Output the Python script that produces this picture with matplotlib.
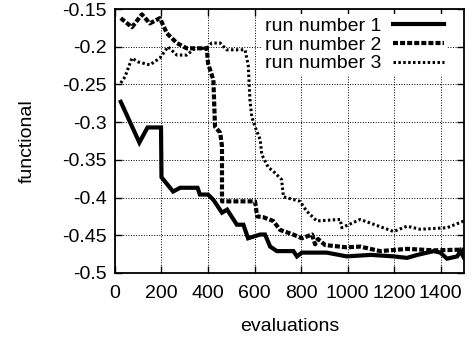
import matplotlib
matplotlib.use('Agg')
from matplotlib import pyplot as plt

# evaluations / functional value for the three runs
run1_x = [25, 105, 140, 198, 200, 250, 280, 355, 365, 400, 423, 460, 482, 524, 552, 572, 624, 645,
          667, 696, 767, 782, 803, 910, 996, 1100, 1197, 1255, 1300, 1370, 1398, 1427, 1471, 1484, 1500]
run1_y = [-0.273, -0.327, -0.307, -0.307, -0.373, -0.392, -0.387, -0.387, -0.396, -0.396, -0.403,
          -0.420, -0.416, -0.436, -0.436, -0.454, -0.449, -0.449, -0.465, -0.471, -0.471, -0.478,
          -0.473, -0.473, -0.478, -0.476, -0.478, -0.480, -0.476, -0.471, -0.473, -0.481, -0.478,
          -0.471, -0.480]

run2_x = [25, 73, 116, 150, 193, 223, 266, 308, 395, 400, 423, 430, 452, 460, 460, 602, 611, 637,
          680, 710, 766, 803, 847, 860, 873, 903, 996, 1054, 1140, 1255, 1370, 1500]
run2_y = [-0.162, -0.174, -0.157, -0.169, -0.162, -0.182, -0.195, -0.202, -0.202, -0.222, -0.244,
          -0.306, -0.314, -0.332, -0.405, -0.405, -0.425, -0.426, -0.431, -0.443, -0.449, -0.454,
          -0.449, -0.462, -0.455, -0.463, -0.466, -0.465, -0.471, -0.468, -0.470, -0.469]

run3_x = [25, 43, 73, 99, 150, 193, 228, 266, 308, 344, 394, 416, 452, 480, 559, 573, 580, 588,
          602, 624, 631, 659, 680, 716, 724, 795, 824, 867, 968, 975, 1054, 1197, 1255, 1312,
          1427, 1500]
run3_y = [-0.248, -0.240, -0.215, -0.220, -0.224, -0.215, -0.200, -0.211, -0.211, -0.202, -0.202,
          -0.195, -0.195, -0.204, -0.204, -0.225, -0.270, -0.293, -0.306, -0.323, -0.343, -0.360,
          -0.365, -0.376, -0.399, -0.405, -0.418, -0.431, -0.429, -0.440, -0.429, -0.445, -0.438,
          -0.442, -0.440, -0.431]

labels = ['run number 1', 'run number 2', 'run number 3']
x_ticks = [0, 200, 400, 600, 800, 1000, 1200, 1400]
y_ticks = [-0.5, -0.45, -0.4, -0.35, -0.3, -0.25, -0.2, -0.15]

plt.rcParams['font.family'] = ['Liberation Sans', 'DejaVu Sans']
plt.rcParams['font.size'] = 14

fig = plt.figure(figsize=(4.73, 3.37), dpi=100)
ax = fig.add_axes([0.243, 0.19, 0.738, 0.783])

ax.plot(run1_x, run1_y, color='black', lw=3, solid_joinstyle='miter', label=labels[0])
ax.plot(run2_x, run2_y, color='black', lw=3, dashes=(1.2, 0.5), label=labels[1])
ax.plot(run3_x, run3_y, color='black', lw=2.2, dashes=(0.8, 0.8), label=labels[2])

ax.set_xlim(0, 1500)
ax.set_ylim(-0.5, -0.15)
ax.set_xticks(x_ticks)
ax.set_yticks(y_ticks)
ax.set_yticklabels(['-0.5', '-0.45', '-0.4', '-0.35', '-0.3', '-0.25', '-0.2', '-0.15'])
ax.grid(True, color='black', linestyle=':', linewidth=0.7)
ax.tick_params(direction='in', top=True, right=True, length=5, width=1, pad=6)
ax.tick_params(axis='x', pad=9)
for s in ax.spines.values():
    s.set_linewidth(1.3)

ax.set_xlabel('evaluations', labelpad=11)
ax.set_ylabel('functional', labelpad=19)

leg = ax.legend(loc='upper right', bbox_to_anchor=(0.958, 0.99), markerfirst=False, frameon=True,
                framealpha=1, edgecolor='none', fancybox=False, handlelength=2.6,
                labelspacing=0.05, borderaxespad=0.1, borderpad=0.2, handletextpad=0.6)

fig.savefig('out.png', dpi=100)
